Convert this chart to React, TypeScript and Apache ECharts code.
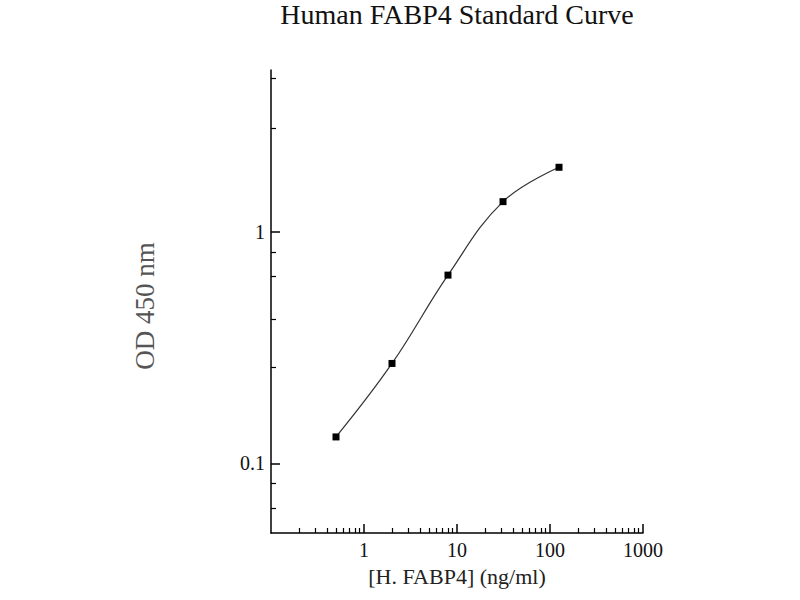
import { useEffect, useRef } from 'react';
import * as echarts from 'echarts';

// standard points (4-fold dilution series)
const concentrations = [0.5, 2, 8, 31.25, 125];
const odValues = [0.13, 0.27, 0.65, 1.35, 1.9];

const xMajorTicks = [1, 10, 100, 1000];
const xMinorTicks = [
  0.2, 0.3, 0.4, 0.5, 0.6, 0.7, 0.8, 0.9,
  2, 3, 4, 5, 6, 7, 8, 9,
  20, 30, 40, 50, 60, 70, 80, 90,
  200, 300, 400, 500, 600, 700, 800, 900,
];
const yMajorTicks = [0.1, 1];
const yMinorTicks = [0.064, 0.082, 0.26, 0.42, 0.64, 0.82, 2.8, 4.6];

const titleText = 'Human FABP4 Standard Curve';
const xName = '[H. FABP4] (ng/ml)';
const yName = 'OD 450 nm';

const FONT = '"Liberation Serif", "Times New Roman", serif';

export default function App() {
  const chartRef = useRef<HTMLDivElement>(null);

  useEffect(() => {
    if (!chartRef.current) return;
    const chart = echarts.init(chartRef.current, undefined, { renderer: 'svg' });

    const axisLine = { show: true, onZero: false, lineStyle: { color: '#000', width: 1.5 } };
    const labelStyle = { color: '#111', fontSize: 20, fontFamily: FONT };

    chart.setOption({
      animation: false,
      backgroundColor: '#fff',
      grid: { left: 271, right: 157, top: 70, bottom: 67, outerBoundsMode: 'none' },
      xAxis: [
        {
          type: 'log',
          logBase: 10,
          min: 0.1,
          max: 1000,
          position: 'bottom',
          axisLine,
          axisTick: { show: true, inside: true, length: 9, customValues: xMajorTicks, lineStyle: { color: '#000', width: 1.5 } },
          axisLabel: { ...labelStyle, margin: 7, customValues: xMajorTicks, formatter: (v: number) => String(v) },
          splitLine: { show: false },
        },
        {
          type: 'log',
          logBase: 10,
          min: 0.1,
          max: 1000,
          position: 'bottom',
          axisLine: { show: false, onZero: false },
          axisTick: { show: true, inside: true, length: 5, customValues: xMinorTicks, lineStyle: { color: '#000', width: 1.2 } },
          axisLabel: { show: false },
          splitLine: { show: false },
        },
      ],
      yAxis: [
        {
          type: 'log',
          logBase: 10,
          min: 0.05,
          max: 5,
          position: 'left',
          axisLine,
          axisTick: { show: true, inside: true, length: 9, customValues: yMajorTicks, lineStyle: { color: '#000', width: 1.5 } },
          axisLabel: { ...labelStyle, margin: 6, customValues: yMajorTicks, formatter: (v: number) => String(v) },
          splitLine: { show: false },
        },
        {
          type: 'log',
          logBase: 10,
          min: 0.05,
          max: 5,
          position: 'left',
          axisLine: { show: false, onZero: false },
          axisTick: { show: true, inside: true, length: 5, customValues: yMinorTicks, lineStyle: { color: '#000', width: 1.2 } },
          axisLabel: { show: false },
          splitLine: { show: false },
        },
      ],
      graphic: [
        {
          type: 'text',
          x: 457,
          y: 14,
          style: { text: titleText, fontSize: 28, fontFamily: FONT, fill: '#111', textAlign: 'center', textVerticalAlign: 'middle' },
        },
        {
          type: 'text',
          x: 457,
          y: 576,
          style: { text: xName, fontSize: 22, fontFamily: FONT, fill: '#222', textAlign: 'center', textVerticalAlign: 'middle' },
        },
        {
          type: 'text',
          x: 145,
          y: 306,
          rotation: Math.PI / 2,
          style: { text: yName, fontSize: 27, fontFamily: FONT, fill: '#555', textAlign: 'center', textVerticalAlign: 'middle' },
        },
      ],
      series: [
        {
          type: 'line',
          xAxisIndex: 0,
          yAxisIndex: 0,
          data: concentrations.map((c, i) => [c, odValues[i]]),
          smooth: 0.4,
          symbol: 'rect',
          symbolSize: 7,
          itemStyle: { color: '#000' },
          lineStyle: { color: '#333', width: 1.2 },
        },
      ],
    });

    return () => chart.dispose();
  }, []);

  return (
    <div
      ref={chartRef}
      style={{ position: 'fixed', left: 0, top: 0, width: 800, height: 600 }}
    />
  );
}
